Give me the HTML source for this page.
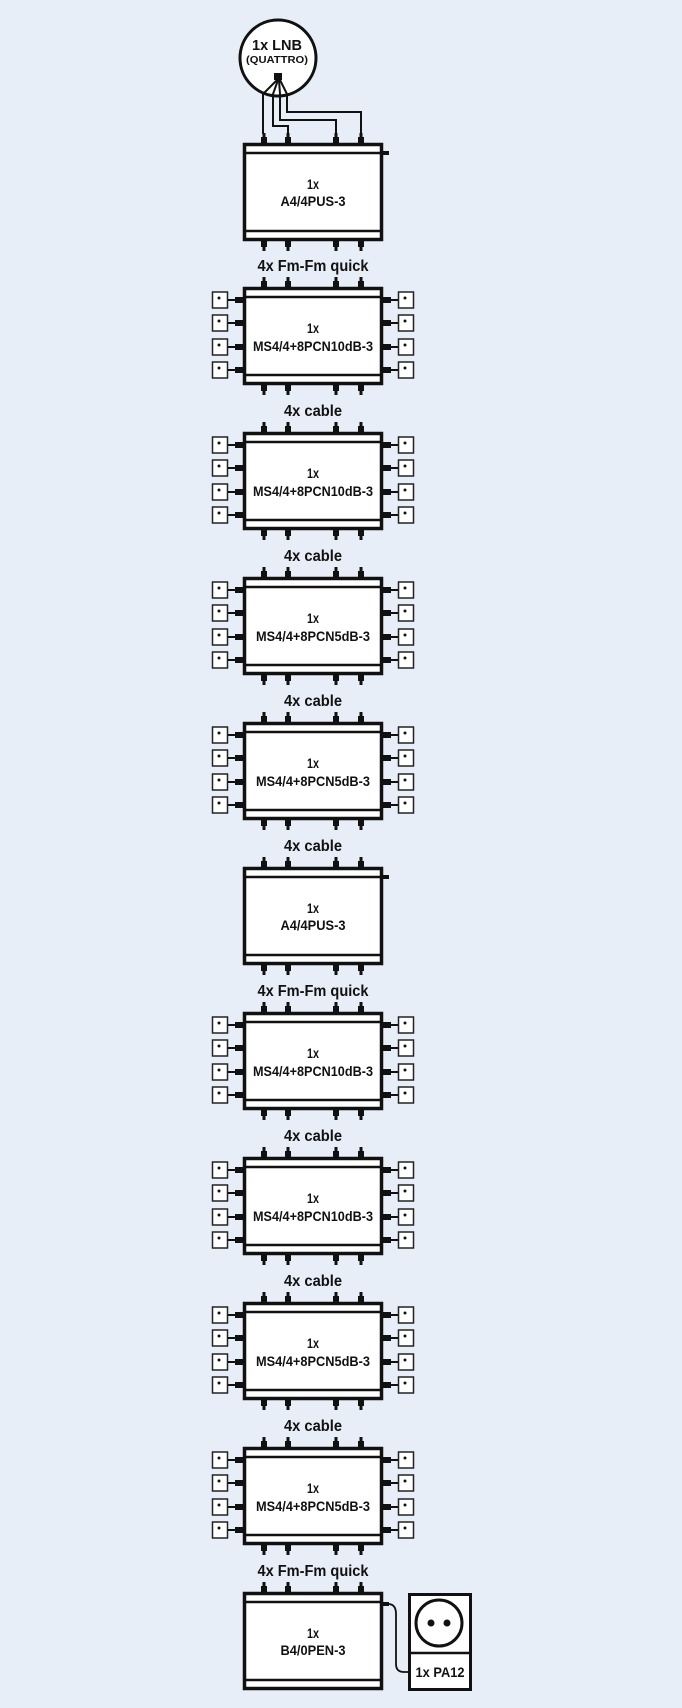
<!DOCTYPE html>
<html><head><meta charset="utf-8"><style>
html,body{margin:0;padding:0;background:#e7eef7;}
svg{display:block;}
text{font-family:"Liberation Sans",sans-serif;font-weight:bold;text-anchor:middle;fill:#111;}
</style></head><body>
<svg width="682" height="1708" viewBox="0 0 682 1708" xmlns="http://www.w3.org/2000/svg">
<defs>
<g id="conT">
<rect x="-1.5" y="-10" width="3" height="10" fill="#111"/>
<rect x="-3" y="-6" width="6" height="6" fill="#111"/>
</g>
<g id="conB">
<rect x="-1.5" y="0" width="3" height="10" fill="#111"/>
<rect x="-3" y="0" width="6" height="6" fill="#111"/>
</g>
<g id="body">
<rect x="244.5" y="1.5" width="137" height="95" fill="#fff" stroke="#111" stroke-width="3.5"/>
<line x1="244" y1="10" x2="382" y2="10" stroke="#111" stroke-width="2.5"/>
<use href="#conT" x="264"/><use href="#conT" x="288"/><use href="#conT" x="336"/><use href="#conT" x="361"/>
</g>
<g id="bot">
<line x1="244" y1="88" x2="382" y2="88" stroke="#111" stroke-width="2.5"/>
<use href="#conB" x="264" y="98"/><use href="#conB" x="288" y="98"/><use href="#conB" x="336" y="98"/><use href="#conB" x="361" y="98"/>
</g>
<g id="tl">
<line x1="227" y1="0" x2="243" y2="0" stroke="#111" stroke-width="2"/>
<rect x="235" y="-3" width="8" height="6" fill="#111"/>
<rect x="212.5" y="-8" width="15" height="16" fill="#fff" stroke="#222" stroke-width="1.5"/>
<circle cx="219" cy="-2" r="1.5" fill="#111"/>
</g>
<g id="tr">
<line x1="383" y1="0" x2="399" y2="0" stroke="#111" stroke-width="2"/>
<rect x="383" y="-3" width="8" height="6" fill="#111"/>
<rect x="398.5" y="-8" width="15" height="16" fill="#fff" stroke="#222" stroke-width="1.5"/>
<circle cx="405" cy="-2" r="1.5" fill="#111"/>
</g>
<g id="ms">
<use href="#tl" y="13"/><use href="#tl" y="36"/><use href="#tl" y="60"/><use href="#tl" y="83"/>
<use href="#tr" y="13"/><use href="#tr" y="36"/><use href="#tr" y="60"/><use href="#tr" y="83"/>
<use href="#body"/><use href="#bot"/>
</g>
<g id="a4">
<rect x="383" y="8" width="6" height="4" fill="#111"/>
<use href="#body"/><use href="#bot"/>
</g>
</defs>

<!-- LNB -->
<circle cx="278" cy="58" r="38" fill="#fff" stroke="#111" stroke-width="3"/>
<text x="277" y="50" font-size="15" textLength="50" lengthAdjust="spacingAndGlyphs">1x LNB</text>
<text x="277" y="63" font-size="10" textLength="62" lengthAdjust="spacingAndGlyphs">(QUATTRO)</text>
<rect x="274" y="73" width="8" height="7" fill="#111"/>
<g fill="none" stroke="#111" stroke-width="2">
<path d="M277 80 L263 94 L263 134"/>
<path d="M278 80 L273 94 L273 126 L288 126 L288 134"/>
<path d="M279 80 L280 94 L280 120 L336 120 L336 134"/>
<path d="M280 80 L287 94 L287 112 L361 112 L361 134"/>
</g>

<g transform="translate(0,143)"><use href="#a4"/><text x="313" y="46" font-size="14" textLength="12" lengthAdjust="spacingAndGlyphs">1x</text><text x="313" y="63" font-size="14" textLength="65" lengthAdjust="spacingAndGlyphs">A4/4PUS-3</text></g>
<text x="313" y="271" font-size="16" textLength="111" lengthAdjust="spacingAndGlyphs">4x Fm-Fm quick</text>

<g transform="translate(0,287)"><use href="#ms"/><text x="313" y="46" font-size="14" textLength="12" lengthAdjust="spacingAndGlyphs">1x</text><text x="313" y="64" font-size="14" textLength="120" lengthAdjust="spacingAndGlyphs">MS4/4+8PCN10dB-3</text></g>
<text x="313" y="416" font-size="16" textLength="58" lengthAdjust="spacingAndGlyphs">4x cable</text>
<g transform="translate(0,432)"><use href="#ms"/><text x="313" y="46" font-size="14" textLength="12" lengthAdjust="spacingAndGlyphs">1x</text><text x="313" y="64" font-size="14" textLength="120" lengthAdjust="spacingAndGlyphs">MS4/4+8PCN10dB-3</text></g>
<text x="313" y="561" font-size="16" textLength="58" lengthAdjust="spacingAndGlyphs">4x cable</text>
<g transform="translate(0,577)"><use href="#ms"/><text x="313" y="46" font-size="14" textLength="12" lengthAdjust="spacingAndGlyphs">1x</text><text x="313" y="64" font-size="14" textLength="114" lengthAdjust="spacingAndGlyphs">MS4/4+8PCN5dB-3</text></g>
<text x="313" y="706" font-size="16" textLength="58" lengthAdjust="spacingAndGlyphs">4x cable</text>
<g transform="translate(0,722)"><use href="#ms"/><text x="313" y="46" font-size="14" textLength="12" lengthAdjust="spacingAndGlyphs">1x</text><text x="313" y="64" font-size="14" textLength="114" lengthAdjust="spacingAndGlyphs">MS4/4+8PCN5dB-3</text></g>
<text x="313" y="851" font-size="16" textLength="58" lengthAdjust="spacingAndGlyphs">4x cable</text>

<g transform="translate(0,867)"><use href="#a4"/><text x="313" y="46" font-size="14" textLength="12" lengthAdjust="spacingAndGlyphs">1x</text><text x="313" y="63" font-size="14" textLength="65" lengthAdjust="spacingAndGlyphs">A4/4PUS-3</text></g>
<text x="313" y="996" font-size="16" textLength="111" lengthAdjust="spacingAndGlyphs">4x Fm-Fm quick</text>

<g transform="translate(0,1012)"><use href="#ms"/><text x="313" y="46" font-size="14" textLength="12" lengthAdjust="spacingAndGlyphs">1x</text><text x="313" y="64" font-size="14" textLength="120" lengthAdjust="spacingAndGlyphs">MS4/4+8PCN10dB-3</text></g>
<text x="313" y="1141" font-size="16" textLength="58" lengthAdjust="spacingAndGlyphs">4x cable</text>
<g transform="translate(0,1157)"><use href="#ms"/><text x="313" y="46" font-size="14" textLength="12" lengthAdjust="spacingAndGlyphs">1x</text><text x="313" y="64" font-size="14" textLength="120" lengthAdjust="spacingAndGlyphs">MS4/4+8PCN10dB-3</text></g>
<text x="313" y="1286" font-size="16" textLength="58" lengthAdjust="spacingAndGlyphs">4x cable</text>
<g transform="translate(0,1302)"><use href="#ms"/><text x="313" y="46" font-size="14" textLength="12" lengthAdjust="spacingAndGlyphs">1x</text><text x="313" y="64" font-size="14" textLength="114" lengthAdjust="spacingAndGlyphs">MS4/4+8PCN5dB-3</text></g>
<text x="313" y="1431" font-size="16" textLength="58" lengthAdjust="spacingAndGlyphs">4x cable</text>
<g transform="translate(0,1447)"><use href="#ms"/><text x="313" y="46" font-size="14" textLength="12" lengthAdjust="spacingAndGlyphs">1x</text><text x="313" y="64" font-size="14" textLength="114" lengthAdjust="spacingAndGlyphs">MS4/4+8PCN5dB-3</text></g>
<text x="313" y="1576" font-size="16" textLength="111" lengthAdjust="spacingAndGlyphs">4x Fm-Fm quick</text>

<g transform="translate(0,1592)">
<use href="#body"/>
<line x1="244" y1="88" x2="382" y2="88" stroke="#111" stroke-width="2.5"/>
<rect x="383" y="10" width="6" height="4" fill="#111"/>
<path d="M388 12 Q396 12 396 22 L396 72 Q396 80 404 80 L408 80" fill="none" stroke="#111" stroke-width="1.8"/>
<text x="313" y="46" font-size="14" textLength="12" lengthAdjust="spacingAndGlyphs">1x</text><text x="313" y="63" font-size="14" textLength="65" lengthAdjust="spacingAndGlyphs">B4/0PEN-3</text>
</g>

<!-- PA12 -->
<rect x="409.5" y="1594.5" width="61" height="95" fill="#fff" stroke="#111" stroke-width="3"/>
<line x1="409" y1="1653" x2="471" y2="1653" stroke="#111" stroke-width="2.5"/>
<circle cx="439" cy="1623" r="23" fill="#fff" stroke="#111" stroke-width="3"/>
<circle cx="431" cy="1623" r="3.5" fill="#111"/>
<circle cx="447" cy="1623" r="3.5" fill="#111"/>
<text x="440" y="1677" font-size="14" textLength="49" lengthAdjust="spacingAndGlyphs">1x PA12</text>
</svg>
</body></html>
